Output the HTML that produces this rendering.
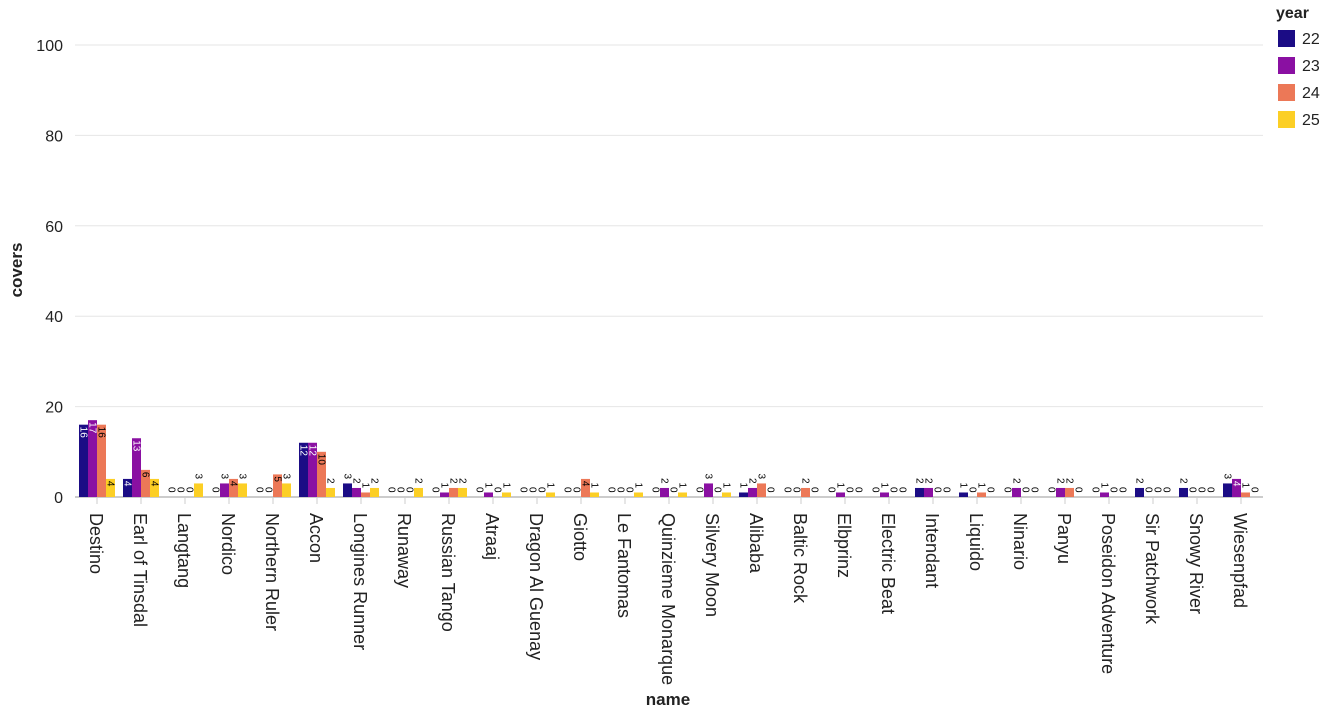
<!DOCTYPE html>
<html><head><meta charset="utf-8"><style>
html,body{margin:0;padding:0;background:#fff;}
svg{display:block;font-family:"Liberation Sans",Arial,sans-serif;}
</style></head><body>
<svg id="c" width="1324" height="708" xmlns="http://www.w3.org/2000/svg"></svg>
<script>
const data=[["Destino",16,17,16,4],["Earl of Tinsdal",4,13,6,4],["Langtang",0,0,0,3],["Nordico",0,3,4,3],["Northern Ruler",0,0,5,3],["Accon",12,12,10,2],["Longines Runner",3,2,1,2],["Runaway",0,0,0,2],["Russian Tango",0,1,2,2],["Atraaj",0,1,0,1],["Dragon Al Guenay",0,0,0,1],["Giotto",0,0,4,1],["Le Fantomas",0,0,0,1],["Quinzieme Monarque",0,2,0,1],["Silvery Moon",0,3,0,1],["Alibaba",1,2,3,0],["Baltic Rock",0,0,2,0],["Elbprinz",0,1,0,0],["Electric Beat",0,1,0,0],["Intendant",2,2,0,0],["Liquido",1,0,1,0],["Ninario",0,2,0,0],["Panyu",0,2,2,0],["Poseidon Adventure",0,1,0,0],["Sir Patchwork",2,0,0,0],["Snowy River",2,0,0,0],["Wiesenpfad",3,4,1,0]];
const cols=["#1b0c85","#8a10a2","#ec7857","#fccf25"];
const x0=75,x1=1263,y0=497,sc=4.52,bw=(x1-x0)/27;
let s="";
for(let v=0;v<=100;v+=20){const y=y0-v*sc;
 if(v>0)s+=`<line x1="${x0}" x2="${x1}" y1="${y}" y2="${y}" stroke="#e6e6e6"/>`;
 s+=`<text x="63" y="${y+6}" text-anchor="end" font-size="16" fill="#222">${v}</text>`;}
s+=`<line x1="${x0}" x2="${x1}" y1="${y0}" y2="${y0}" stroke="#999"/>`;
data.forEach((d,i)=>{const bx=x0+i*bw,cx=bx+bw/2;
 s+=`<line x1="${cx}" x2="${cx}" y1="${y0}" y2="${y0+7}" stroke="#ccc"/>`;
 s+=`<text transform="translate(${cx-7},${y0+16}) rotate(90)" font-size="18" fill="#222">${d[0]}</text>`;
 for(let k=0;k<4;k++){const v=d[k+1],x=bx+4+k*9,h=v*sc,y=y0-h;
  if(v>0)s+=`<rect x="${x}" y="${y}" width="9" height="${h}" fill="${cols[k]}"/>`;
  const inside=h>=14;const tx=x+1.5;
  if(inside){s+=`<text transform="translate(${tx},${y+2}) rotate(90)" font-size="10" fill="${k<2?'#fff':'#000'}">${v}</text>`;}
  else{s+=`<text transform="translate(${tx},${y-10}) rotate(90)" font-size="10" fill="#000">${v}</text>`;}
 }});
s+=`<text x="668" y="705" text-anchor="middle" font-size="17" font-weight="bold" fill="#222">name</text>`;
s+=`<text transform="translate(22,270) rotate(-90)" text-anchor="middle" font-size="17" font-weight="bold" fill="#222">covers</text>`;
s+=`<text x="1276" y="18" font-size="16" font-weight="bold" fill="#222">year</text>`;
["22","23","24","25"].forEach((t,k)=>{const y=30+k*27;
 s+=`<rect x="1278" y="${y}" width="17" height="17" fill="${cols[k]}"/><text x="1302" y="${y+14}" font-size="16" fill="#222">${t}</text>`;});
document.getElementById("c").innerHTML=s;
</script>
</body></html>
